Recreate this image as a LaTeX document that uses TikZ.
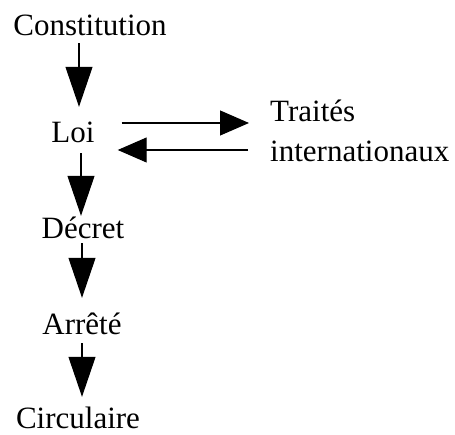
\documentclass[tikz,border=0pt]{standalone}
\usepackage{fontspec}
\setmainfont{Liberation Serif}
\usetikzlibrary{arrows.meta,positioning}
\tikzset{
  normlabel/.style={
    font=\fontsize{31}{40}\selectfont,
    inner sep=3pt,
    text height=22pt,
    text depth=0pt
  },
  downarrow/.style={-{Triangle[length=40pt,width=27pt]}, line width=1.1pt},
  sidearrow/.style={-{Triangle[length=29pt,width=25pt]}, line width=1.1pt}
}
\begin{document}
\begin{tikzpicture}[x=1pt, y=1pt]
  \useasboundingbox (0,0) rectangle (455,435);

  \node[normlabel, anchor=base] (constitution) at (90,399) {Constitution};
  \node[normlabel, anchor=base] (loi) at (73,292) {Loi};
  \node[normlabel, anchor=base] (decret) at (83,196) {Décret};
  \node[normlabel, anchor=base] (arrete) at (82,100) {Arrêté};
  \node[normlabel, anchor=base] (circulaire) at (78,6) {Circulaire};
  \node[font=\fontsize{31}{40}\selectfont, align=left, inner sep=3pt, anchor=base west] (traites) at (267,273)
    {Traités\\internationaux};

  % hierarchy, top to bottom
  \draw[downarrow] ([xshift=-11pt,yshift=-4pt]constitution.south) -- ([xshift=6pt,yshift=11pt]loi.north);
  \draw[downarrow] ([xshift=8pt,yshift=-7pt]loi.south) -- ([xshift=-2pt,yshift=-2pt]decret.north);
  \draw[downarrow] ([xshift=-1pt,yshift=-1pt]decret.south) -- ([yshift=12pt]arrete.north);
  \draw[downarrow] ([yshift=-5pt]arrete.south) -- ([xshift=4pt,yshift=7pt]circulaire.north);

  % treaties both ways
  \draw[sidearrow, shorten <=24pt, shorten >=18pt] ([yshift=9pt]loi.east) -- ([yshift=9pt]loi.east -| traites.west);
  \draw[sidearrow, shorten <=19pt, shorten >=20pt] ([yshift=-18pt]loi.east -| traites.west) -- ([yshift=-18pt]loi.east);
\end{tikzpicture}
\end{document}
